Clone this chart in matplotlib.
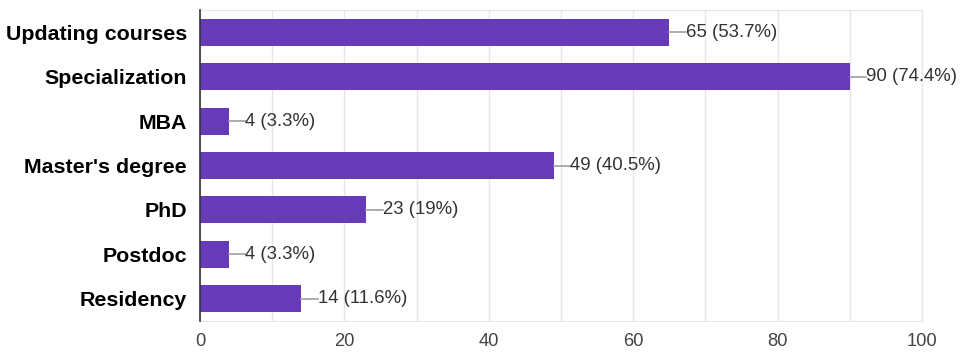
import matplotlib
matplotlib.use("Agg")
import matplotlib.pyplot as plt
from matplotlib.ticker import MultipleLocator

# Answer options and counts (top to bottom as shown)
categories = ["Updating courses", "Specialization", "MBA", "Master's degree",
              "PhD", "Postdoc", "Residency"]
counts = [65, 90, 4, 49, 23, 4, 14]
labels = ["65 (53.7%)", "90 (74.4%)", "4 (3.3%)", "49 (40.5%)",
          "23 (19%)", "4 (3.3%)", "14 (11.6%)"]
xticks = [0, 20, 40, 60, 80, 100]

plt.rcParams['font.family'] = ['Liberation Sans', 'DejaVu Sans']

fig = plt.figure(figsize=(9.64, 3.54), dpi=100)
ax = fig.add_axes([200 / 964, 1 - 321 / 354, 722 / 964, 311 / 354])

y = list(range(len(categories)))
ax.barh(y, counts, height=0.61, color="#673ab7", zorder=3)

# value labels with small leader lines
for yi, c, lab in zip(y, counts, labels):
    ax.plot([c, c + 2.3], [yi, yi], color="#9e9e9e", lw=1.2, zorder=3)
    ax.text(c + 2.3, yi, lab, va="center", ha="left", fontsize=13.4,
            color="#333333")

ax.set_xlim(0, 100)
ax.set_ylim(len(categories) - 0.5, -0.5)
ax.set_yticks(y)
ax.set_yticklabels(categories, fontsize=15.4, fontweight="bold", color="#000000")
ax.set_xticks(xticks)
ax.set_xticklabels([str(t) for t in xticks], fontsize=13.2, color="#444444")
ax.xaxis.set_minor_locator(MultipleLocator(10))
ax.grid(axis="x", which="both", color="#e6e6e6", lw=1, zorder=0)
ax.tick_params(axis="both", which="both", length=0)
ax.tick_params(axis="x", pad=9)
ax.tick_params(axis="y", pad=9.4)

for side in ["top", "right", "bottom"]:
    ax.spines[side].set_color("#e6e6e6")
ax.spines["left"].set_color("#333333")
ax.spines["left"].set_linewidth(1.2)
ax.spines["left"].set_zorder(4)

fig.savefig("out.png", dpi=100)
